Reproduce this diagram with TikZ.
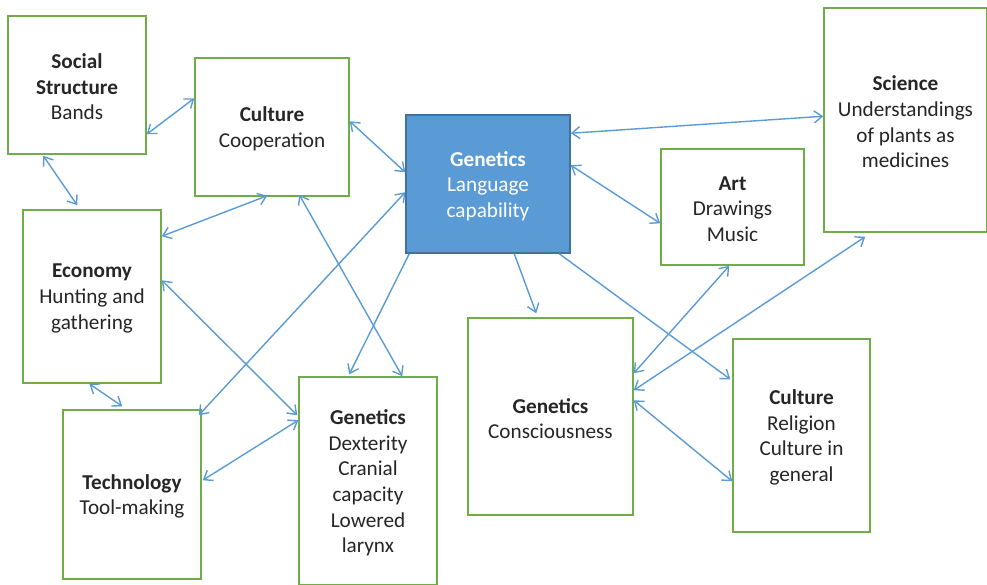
\documentclass[tikz,border=0pt]{standalone}
\usepackage{fontspec}
\setmainfont{Carlito}
\usetikzlibrary{arrows.meta,calc}
\definecolor{linkblue}{HTML}{5B9BD5}
\definecolor{boxgreen}{HTML}{70AD47}
\definecolor{keyedge}{HTML}{41719C}
\definecolor{inktext}{HTML}{262626}
\begin{document}
\begin{tikzpicture}[x=1pt,y=-1pt,
  topic/.style={draw=boxgreen, line width=1.5pt, fill=white, inner sep=0pt,
    align=center, text=inktext, font=\fontsize{21.2}{25.6}\selectfont,
    execute at begin node={\vbox\bgroup\kern4pt},
    execute at end node={\egroup}},
  keytopic/.style={topic, draw=keyedge, fill=linkblue, text=white},
  link/.style={draw=linkblue, line width=1.4pt},
  both/.style={link, {Straight Barb[length=8pt,width=12pt]}-{Straight Barb[length=8pt,width=12pt]}},
  one/.style={link, -{Straight Barb[length=8pt,width=12pt]}}]
\useasboundingbox (0,0) rectangle (987,584);

% topic boxes
\node[topic, minimum width=138pt, minimum height=138pt] (ss) at (77,85)
  {\textbf{Social}\\\textbf{Structure}\\Bands};
\node[topic, minimum width=154pt, minimum height=138pt] (cc) at (272,127)
  {\textbf{Culture}\\Cooperation};
\node[keytopic, minimum width=164pt, minimum height=138pt] (gl) at (488,184)
  {\textbf{Genetics}\\Language\\capability};
\node[topic, minimum width=143pt, minimum height=116pt] (art) at (732.5,207)
  {\textbf{Art}\\Drawings\\Music};
\node[topic, minimum width=163pt, minimum height=224pt] (sci) at (905.5,120)
  {\textbf{Science}\\Understandings\\of plants as\\medicines};
\node[topic, minimum width=138pt, minimum height=173pt] (eco) at (92,296.5)
  {\textbf{Economy}\\Hunting and\\gathering};
\node[topic, minimum width=138pt, minimum height=169pt] (tech) at (132,494.5)
  {\textbf{Technology}\\Tool-making};
\node[topic, minimum width=138pt, minimum height=208pt] (dex) at (368,481)
  {\textbf{Genetics}\\Dexterity\\Cranial\\capacity\\Lowered\\larynx};
\node[topic, minimum width=165pt, minimum height=197pt] (con) at (550.5,416.5)
  {\textbf{Genetics}\\Consciousness};
\node[topic, minimum width=137pt, minimum height=193pt] (cr) at (801.5,435.5)
  {\textbf{Culture}\\Religion\\Culture in\\general};

% links between topics
\draw[both] ($(ss.north east)+(0,119)$) -- ($(cc.north west)+(0,41)$);
\draw[both] ($(ss.south west)+(36,1)$) -- ($(eco.north west)+(55,-4)$);
\draw[both] ($(cc.north east)+(0,64)$) -- ($(gl.north west)+(0,58)$);
\draw[both] ($(eco.north east)+(0,27)$) -- ($(cc.south west)+(73,-1)$);
\draw[both] ($(cc.south west)+(105,-2)$) -- ($(dex.north west)+(104,0)$);
\draw[both] ($(gl.north west)+(0,78)$) -- ($(tech.north east)+(-3,6)$);
\draw[one] ($(gl.south west)+(4,0)$) -- ($(dex.north west)+(51,-2)$);
\draw[both] ($(eco.north east)+(0,71)$) -- ($(dex.north west)+(-1,39)$);
\draw[both] ($(eco.south west)+(67,0)$) -- ($(tech.north west)+(60,-3)$);
\draw[both] ($(tech.north east)+(1,71)$) -- ($(dex.north west)+(0,44)$);
\draw[both] ($(gl.north east)+(0,19)$) -- ($(sci.north west)+(0,109)$);
\draw[both] ($(gl.north east)+(0,51)$) -- ($(art.north west)+(0,75)$);
\draw[one] ($(gl.south west)+(109,0)$) -- ($(con.north west)+(69,-4)$);
\draw[one] ($(gl.south west)+(154,0)$) -- ($(cr.north west)+(-2,41)$);
\draw[both] ($(art.south west)+(69,0)$) -- ($(con.north east)+(0,56)$);
\draw[both] ($(sci.south west)+(42,4)$) -- ($(con.north east)+(0,73)$);
\draw[both] ($(con.north east)+(0,83)$) -- ($(cr.north west)+(0,143)$);
\end{tikzpicture}
\end{document}
